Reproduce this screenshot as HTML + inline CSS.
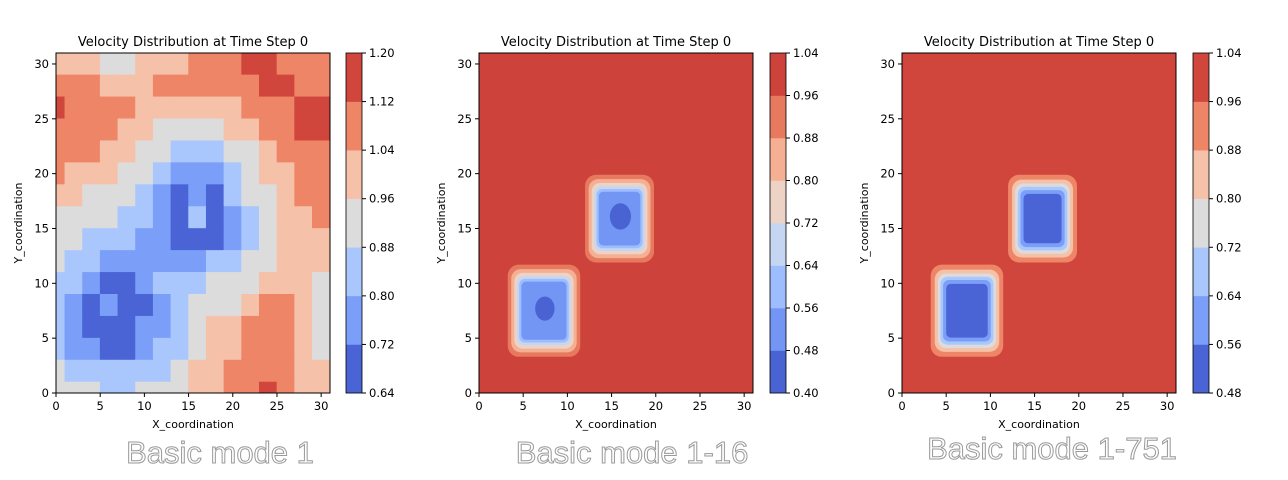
<!DOCTYPE html>
<html><head><meta charset="utf-8">
<style>
html,body{margin:0;padding:0;background:#fff;}
svg{display:block;font-family:"DejaVu Sans","Liberation Sans",sans-serif;}
.cap{font-family:"Liberation Sans",sans-serif;font-size:31px;fill:#fff;stroke:#999;stroke-width:1px;}
</style></head>
<body>
<svg id="fig" width="1288" height="480" viewBox="0 0 1288 480" xmlns="http://www.w3.org/2000/svg"></svg>
<script>
// ---------- data ----------
const xTicks = [0,5,10,15,20,25,30];
const yTicks = [0,5,10,15,20,25,30];
const cbTicks1 = ["0.64","0.72","0.80","0.88","0.96","1.04","1.12","1.20"];
const cbTicks2 = ["0.40","0.48","0.56","0.64","0.72","0.80","0.88","0.96","1.04"];
const cbTicks3 = ["0.48","0.56","0.64","0.72","0.80","0.88","0.96","1.04"];
const colors7 = ["#4b64d5","#7b9ff9","#aac7fd","#dcdcdc","#f5c1a8","#ee8567","#d0453c"];
const colors8 = ["#4a63d3","#7396f5","#9dbdff","#c5d6f2","#ecd3c5","#f5b094","#e7795e","#cd423b"];
// panel 1 band index grid (rows from y=30 down to y=0, cols x=0..30 step 2)
const grid1 = [
 [4,4,4,3,3,4,4,4,5,5,5,6,6,5,5,5],
 [5,5,5,4,4,4,5,5,5,5,5,5,6,6,5,5],
 [6,5,5,5,5,4,4,4,4,4,4,5,5,5,6,6],
 [5,5,5,5,4,4,3,3,3,3,4,4,5,5,6,6],
 [5,5,5,4,4,3,3,2,2,2,3,3,4,5,5,5],
 [5,4,4,4,3,3,2,1,1,1,2,3,4,4,5,5],
 [4,4,3,3,3,2,1,0,1,0,2,3,3,4,5,5],
 [3,3,3,3,2,2,1,0,2,0,1,2,3,4,4,5],
 [3,3,2,2,2,1,1,0,0,0,1,2,3,4,4,4],
 [3,2,2,1,1,1,1,1,1,2,2,3,3,4,4,4],
 [2,2,1,0,0,1,2,2,2,3,3,3,4,4,4,3],
 [2,1,0,1,0,0,1,2,3,3,3,4,5,5,4,3],
 [2,1,0,0,0,1,1,2,3,4,4,5,5,5,4,3],
 [2,1,1,0,0,1,2,2,3,4,4,5,5,5,4,3],
 [3,2,2,2,2,2,2,3,4,4,5,5,5,5,4,4],
 [3,3,3,2,2,3,3,3,4,4,5,5,6,5,4,4]
];
// blobs: centers and half sizes (data units)
const blobCx = [7.35, 15.9];
const blobCy = [7.5, 15.9];
const blobHw = [4.1, 3.9];
const blobHh = [4.2, 4.0];
// panel 2 rings: band index and inset (units)
const rings2Band = [6,5,4,3,2,1];
const rings2Inset = [0,0.4,0.75,1.05,1.3,1.55];
const core2R = [1.1, 1.2];
// panel 3 rings
const rings3Band = [5,4,3,2,1,0];
const rings3Inset = [0,0.45,0.8,1.1,1.4,1.75];

const NS="http://www.w3.org/2000/svg";
const fig=document.getElementById('fig');
function el(tag,attrs,parent,text){const e=document.createElementNS(NS,tag);for(const k in attrs)e.setAttribute(k,attrs[k]);if(text!==undefined)e.textContent=text;(parent||fig).appendChild(e);return e;}

const panels=[
 {x0:56,cb:346,title:"Velocity Distribution at Time Step 0",cbt:cbTicks1,cbc:colors7,cap:"Basic mode 1",capX:220,capY:463},
 {x0:479,cb:770,title:"Velocity Distribution at Time Step 0",cbt:cbTicks2,cbc:colors8,cap:"Basic mode 1-16",capX:632,capY:463},
 {x0:902,cb:1193,title:"Velocity Distribution at Time Step 0",cbt:cbTicks3,cbc:colors7,cap:"Basic mode 1-751",capX:1052,capY:459}
];
const Y0=53,Y1=393,W=274;
panels.forEach((p,pi)=>{
 const g=el('g',{});
 
 
 const sx=v=>p.x0+v/31*W, sy=v=>Y1-v/31*(Y1-Y0);
 const clip=el('clipPath',{id:'c'+pi},g);el('rect',{x:p.x0,y:Y0,width:W,height:Y1-Y0},clip);
 const plot=el('g',{'clip-path':'url(#c'+pi+')'},g);
 
 
 if(pi===0){
  grid1.forEach((row,ri)=>{const yc=30-2*ri;row.forEach((b,ci)=>{const xc=2*ci;
   const r=el('rect',{x:sx(Math.max(0,xc-1))-0.3,y:sy(Math.min(31,yc+1))-0.3,width:sx(Math.min(31,xc+1))-sx(Math.max(0,xc-1))+0.6,height:sy(Math.max(0,yc-1))-sy(Math.min(31,yc+1))+0.6,fill:colors7[b]},plot);
   
   });});
 } else {
  const cols=pi===1?colors8:colors7;
  el('rect',{x:p.x0,y:Y0,width:W,height:Y1-Y0,fill:cols[cols.length-1]},plot);
  const bands=pi===1?rings2Band:rings3Band, ins=pi===1?rings2Inset:rings3Inset;
  blobCx.forEach((cx,bi)=>{
   bands.forEach((b,k)=>{const hw=blobHw[bi]-ins[k],hh=blobHh[bi]-ins[k];
    const x1=sx(cx-hw),x2=sx(cx+hw),y1=sy(blobCy[bi]+hh),y2=sy(blobCy[bi]-hh);
    const r=el('rect',{x:x1,y:y1,width:x2-x1,height:y2-y1,rx:Math.max(4,11-k*1.3),fill:cols[b]},plot);
    
    });
   if(pi===1){const rr=core2R[bi];
    const e=el('ellipse',{cx:sx(cx+0.1),cy:sy(blobCy[bi]+0.2),rx:rr/31*W,ry:rr/31*(Y1-Y0),fill:cols[0]},plot);
    
    }
  });
 }
 el('rect',{x:p.x0,y:Y0,width:W,height:Y1-Y0,fill:'none',stroke:'#000','stroke-width':1},g);
 xTicks.forEach(t=>{el('line',{x1:sx(t),x2:sx(t),y1:Y1,y2:Y1+4,stroke:'#000'},g);
  const tx=el('text',{x:sx(t),y:Y1+17,'text-anchor':'middle','font-size':11.5},g,t);
  });
 yTicks.forEach(t=>{el('line',{x1:p.x0-4,x2:p.x0,y1:sy(t),y2:sy(t),stroke:'#000'},g);
  const tx=el('text',{x:p.x0-7,y:sy(t)+4,'text-anchor':'end','font-size':11.5},g,t);
  });
 const tt=el('text',{x:p.x0+W/2,y:46,'text-anchor':'middle','font-size':13},g,p.title);
 
 const xl=el('text',{x:p.x0+W/2,y:428,'text-anchor':'middle','font-size':11},g,'X_coordination');
 
 const yl=el('text',{x:0,y:0,'text-anchor':'middle','font-size':11,transform:`translate(${p.x0-34},${(Y0+Y1)/2}) rotate(-90)`},g,'Y_coordination');
 
 const n=p.cbc.length, hb=(Y1-Y0)/n;
 const cbg=el('g',{},g);
 p.cbc.forEach((c,i)=>el('rect',{x:p.cb,y:Y1-(i+1)*hb,width:16,height:hb+0.3,fill:c},cbg));
 el('rect',{x:p.cb,y:Y0,width:16,height:Y1-Y0,fill:'none',stroke:'#000','stroke-width':0.8},cbg);
 p.cbt.forEach((t,i)=>{const y=Y1-i*hb;el('line',{x1:p.cb+16,x2:p.cb+20,y1:y,y2:y,stroke:'#000'},cbg);
  const tx=el('text',{x:p.cb+23,y:y+4,'font-size':11.5},cbg,t);
  });
 const cp=el('text',{x:p.capX,y:p.capY,'text-anchor':'middle',class:'cap'},g,p.cap);
 
});
</script>
</body></html>
